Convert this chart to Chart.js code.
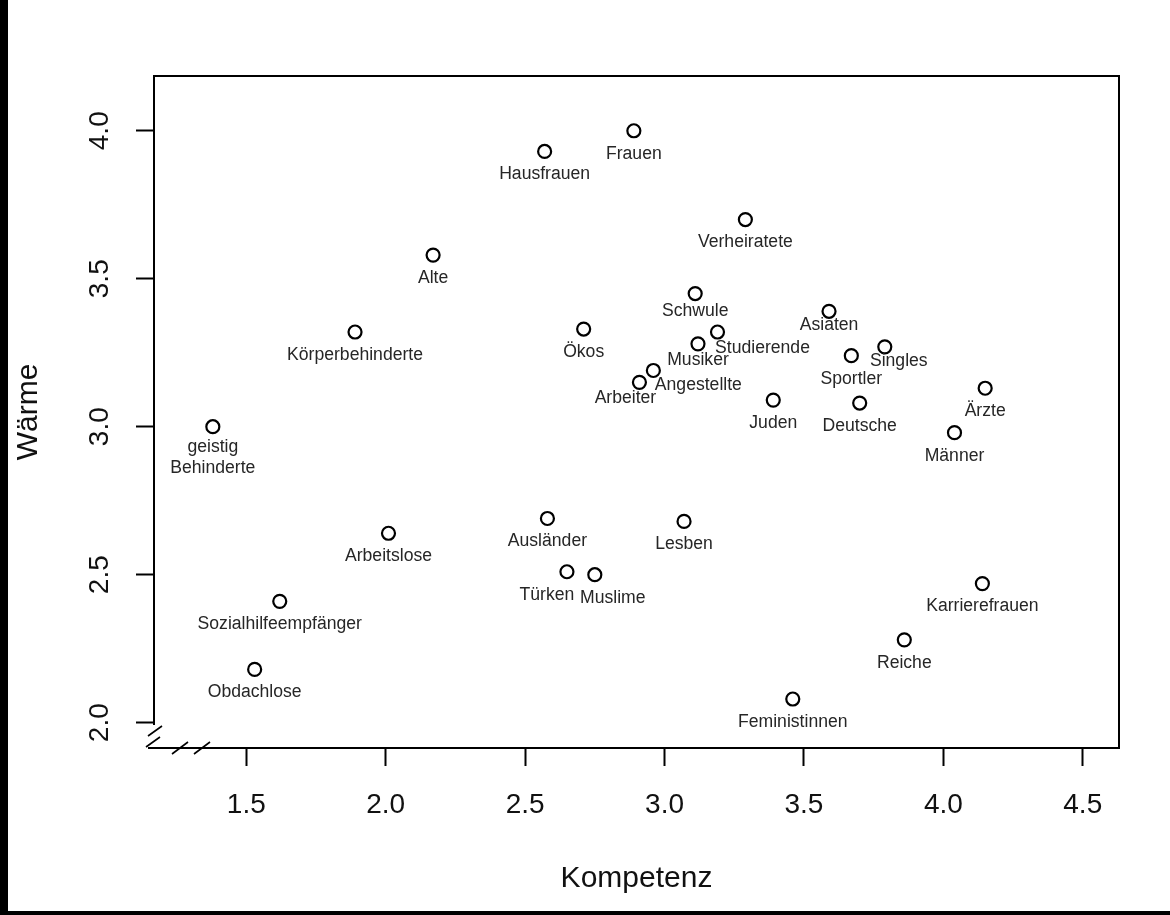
<!DOCTYPE html>
<html>
<head>
<meta charset="utf-8">
<script src="https://cdn.jsdelivr.net/npm/chart.js@4.4.0/dist/chart.umd.min.js"></script>
<style>
  html, body { margin: 0; padding: 0; background: #000; }
  #wrap { position: absolute; left: 8px; top: 0; width: 1162px; height: 911px; background: #fff; }
</style>
</head>
<body>
<div id="wrap"><canvas id="c" width="1162" height="911"></canvas></div>
<script>
const groups = ['Frauen', 'Hausfrauen', 'Verheiratete', 'Alte', 'Körperbehinderte', 'Ökos', 'Schwule',
  'Studierende', 'Musiker', 'Asiaten', 'Singles', 'Sportler', 'Angestellte', 'Arbeiter', 'Juden',
  'Deutsche', 'Ärzte', 'Männer', 'geistig\nBehinderte', 'Arbeitslose', 'Ausländer', 'Lesben',
  'Türken', 'Muslime', 'Sozialhilfeempfänger', 'Obdachlose', 'Karrierefrauen', 'Reiche', 'Feministinnen']
const kompetenz = [2.89, 2.57, 3.29, 2.17, 1.89, 2.71, 3.11,
  3.19, 3.12, 3.59, 3.79, 3.67, 2.96, 2.91, 3.39,
  3.70, 4.15, 4.04, 1.38, 2.01, 2.58, 3.07,
  2.65, 2.75, 1.62, 1.53, 4.14, 3.86, 3.46]
const waerme = [4.00, 3.93, 3.70, 3.58, 3.32, 3.33, 3.45,
  3.32, 3.28, 3.39, 3.27, 3.24, 3.19, 3.15, 3.09,
  3.08, 3.13, 2.98, 3.00, 2.64, 2.69, 2.68,
  2.51, 2.50, 2.41, 2.18, 2.47, 2.28, 2.08]
const xTicks = [1.5, 2.0, 2.5, 3.0, 3.5, 4.0, 4.5]
const yTicks = [2.0, 2.5, 3.0, 3.5, 4.0]

// where labels sit relative to their point (default: centred, 23px below)
const labelShift = {
  'Schwule': [0, 18], 'Musiker': [0, 16], 'Asiaten': [0, 14], 'Singles': [14, 14],
  'Angestellte': [45, 15], 'Arbeiter': [-14, 16], 'Studierende': [45, 16],
  'Türken': [-20, 23], 'Muslime': [18, 23], 'geistig\nBehinderte': [0, 20]
}

const FONT = '"Liberation Sans", Arial, sans-serif'

const pointLabels = {
  id: 'pointLabels',
  afterDatasetsDraw (chart) {
    const ctx = chart.ctx
    const meta = chart.getDatasetMeta(0)
    ctx.save()
    ctx.font = '17.6px ' + FONT
    ctx.fillStyle = '#262626'
    ctx.textAlign = 'center'
    ctx.textBaseline = 'middle'
    meta.data.forEach((pt, i) => {
      const name = groups[i]
      const s = labelShift[name] || [0, 23]
      name.split('\n').forEach((line, j) => {
        ctx.fillText(line, pt.x + s[0], pt.y + s[1] + j * 21.5)
      })
    })
    ctx.restore()
  }
}

const frame = {
  id: 'frame',
  afterDraw (chart) {
    const {left, right, top, bottom} = chart.chartArea
    const ctx = chart.ctx
    ctx.save()
    ctx.strokeStyle = '#000'
    ctx.lineWidth = 2
    ctx.beginPath()
    ctx.moveTo(left, bottom - 23); ctx.lineTo(left, top); ctx.lineTo(right, top)
    ctx.lineTo(right, bottom); ctx.lineTo(left - 6, bottom)
    ctx.stroke()
    ctx.lineWidth = 1.6
    ctx.beginPath()
    // break on the y axis
    ctx.moveTo(left - 6, bottom - 12); ctx.lineTo(left + 8, bottom - 22)
    ctx.moveTo(left - 8, bottom - 1); ctx.lineTo(left + 6, bottom - 11)
    // break on the x axis
    ctx.moveTo(left + 18, bottom + 6); ctx.lineTo(left + 34, bottom - 6)
    ctx.moveTo(left + 40, bottom + 6); ctx.lineTo(left + 56, bottom - 6)
    ctx.stroke()
    ctx.restore()
  }
}

new Chart(document.getElementById('c'), {
  type: 'scatter',
  data: {
    datasets: [{
      data: kompetenz.map((k, i) => ({x: k, y: waerme[i]})),
      pointRadius: 6.5,
      pointHoverRadius: 6.5,
      pointBorderWidth: 2.2,
      borderColor: '#000',
      backgroundColor: 'rgba(0,0,0,0)'
    }]
  },
  options: {
    responsive: false,
    animation: false,
    layout: { padding: { left: 0, top: 76, right: 51, bottom: 0 } },
    plugins: { legend: { display: false }, tooltip: { enabled: false } },
    scales: {
      x: {
        type: 'linear',
        min: 1.169,
        max: 4.630,
        afterBuildTicks: s => { s.ticks = xTicks.map(v => ({value: v})) },
        afterFit: s => { s.height = 163 },
        ticks: {
          font: { family: FONT, size: 28 },
          color: '#111',
          padding: 22,
          maxRotation: 0,
          callback: v => v.toFixed(1)
        },
        grid: { drawOnChartArea: false, tickLength: 18, tickWidth: 2, tickColor: '#000' },
        border: { display: false },
        title: { display: true, text: 'Kompetenz', color: '#111', font: { family: FONT, size: 30 }, padding: { bottom: 14 } }
      },
      y: {
        type: 'linear',
        min: 1.9145,
        max: 4.185,
        afterBuildTicks: s => { s.ticks = yTicks.map(v => ({value: v})) },
        afterFit: s => { s.width = 146 },
        ticks: {
          font: { family: FONT, size: 28 },
          color: '#111',
          padding: 16,
          minRotation: 90,
          maxRotation: 90,
          crossAlign: 'center',
          callback: v => v.toFixed(1)
        },
        grid: { drawOnChartArea: false, tickLength: 18, tickWidth: 2, tickColor: '#000' },
        border: { display: false },
        title: { display: true, text: 'Wärme', color: '#111', font: { family: FONT, size: 30 }, padding: { top: 3 } }
      }
    }
  },
  plugins: [pointLabels, frame]
})
</script>
</body>
</html>
